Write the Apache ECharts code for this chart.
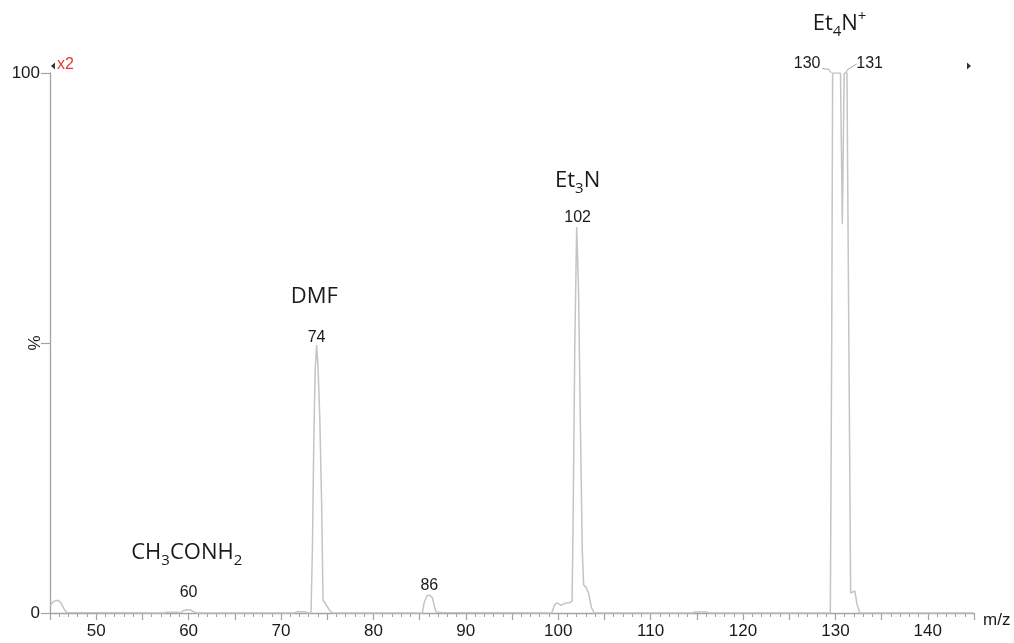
<!DOCTYPE html>
<html>
<head>
<meta charset="utf-8">
<script src="https://cdn.jsdelivr.net/npm/echarts@6/dist/echarts.min.js"></script>
<style>
html,body{margin:0;padding:0;background:#fff;}
#chart{width:1014px;height:643px;}
</style>
</head>
<body>
<div id="chart"></div>
<script>
// m/z profile (x) and relative intensity in % (y)
const mzValues = [
  45.0, 45.3, 45.6, 45.9, 46.2, 46.5, 46.8, 47.0,
  57.3, 57.6, 58.8, 59.1, 59.4, 59.8, 60.2, 60.6, 60.9,
  71.4, 71.8, 72.6, 72.9,
  73.25, 73.4, 73.55, 73.7, 73.85, 74.0, 74.2, 74.4, 74.55, 74.75, 75.0, 75.3, 75.6,
  85.3, 85.5, 85.8, 86.1, 86.4, 86.6, 86.8, 87.4, 87.6,
  99.3, 99.6, 99.9, 100.3, 100.7, 101.2, 101.5, 101.6, 101.8, 102.0, 102.2, 102.4, 102.6, 102.75, 103.0, 103.3, 103.6, 103.9,
  114.5, 114.8, 116.0, 116.3,
  129.45, 129.6, 129.7, 130.55, 130.75, 130.95, 131.25, 131.5, 131.65, 131.85, 132.1, 132.35, 132.65,
  145.0
];
const pctValues = [
  1.3, 2.0, 2.3, 2.3, 1.8, 0.8, 0.1, 0,
  0, 0.15, 0.15, 0, 0.4, 0.6, 0.55, 0.2, 0,
  0, 0.25, 0.25, 0,
  0, 12, 32, 45, 49.6, 46, 36, 20, 2.3, 1.9, 1.2, 0.4, 0,
  0, 2.0, 3.2, 3.3, 2.8, 1.2, 0.2, 0.1, 0,
  0, 1.5, 1.9, 1.4, 1.8, 1.9, 2.2, 15, 50, 71.5, 60, 35, 12, 5.2, 4.8, 3.6, 1.0, 0,
  0, 0.2, 0.2, 0,
  0, 50, 100, 100, 72, 100, 100, 40, 3.7, 3.9, 4.1, 1.5, 0,
  0
];

// axis tick labels
const xTickLabels = [50, 60, 70, 80, 90, 100, 110, 120, 130, 140];
const yTickLabels = [0, 100];

// peak number labels
const peakMz   = [60, 73.85, 86.05, 102.1, 129.65, 131.0];
const peakPct  = [0.6, 49.6, 3.3, 71.5, 100, 100];
const peakText = ['60', '74', '86', '102', '130', '131'];

// compound annotations
const compoundMz   = [59.8, 73.6, 102.1, 130.45];
const compoundPct  = [0.6, 49.6, 71.5, 100];
const compoundText = [
  '{n|CH}{s|3}{n|CONH}{s|2}',
  '{n|DMF}',
  '{n|Et}{s|3}{n|N}',
  '{n|Et}{s|4}{n|N}{p|+}'
];

const labelDistances = [9, 0, 2, 1];
const compoundDistances = [42, 33, 31, 34];

const chart = echarts.init(document.getElementById('chart'), null, {renderer: 'canvas'});

const axisColor = '#a3a3a3';
const textColor = '#1a1a1a';
const numFont = 'Liberation Sans';

const option = {
  animation: false,
  backgroundColor: '#ffffff',
  grid: {left: 50, right: 40, top: 73, bottom: 30, containLabel: false, outerBoundsMode: 'none'},
  xAxis: {
    type: 'value', min: 45, max: 145, interval: 5,
    name: 'm/z', nameLocation: 'end', nameGap: 9, nameMoveOverlap: false,
    nameTextStyle: {fontSize: 17, color: textColor, fontFamily: numFont, verticalAlign: 'top', padding: [-1, 0, 0, 0]},
    axisLine: {show: true, lineStyle: {color: axisColor, width: 1.3}},
    axisTick: {show: true, length: 7, lineStyle: {color: axisColor, width: 1.2}},
    minorTick: {show: true, splitNumber: 5, length: 4, lineStyle: {color: axisColor, width: 1}},
    splitLine: {show: false},
    minorSplitLine: {show: false},
    axisLabel: {
      fontSize: 17, color: textColor, fontFamily: numFont, margin: 10,
      formatter: v => xTickLabels.indexOf(v) >= 0 ? String(v) : ''
    }
  },
  yAxis: {
    type: 'value', min: 0, max: 100, interval: 50,
    name: '%', nameLocation: 'middle', nameGap: 6, nameRotate: 90, nameMoveOverlap: false,
    nameTextStyle: {fontSize: 17, color: textColor, fontFamily: numFont},
    axisLine: {show: true, lineStyle: {color: axisColor, width: 1.3}},
    axisTick: {show: true, length: 9, lineStyle: {color: axisColor, width: 1.2}},
    splitLine: {show: false},
    axisLabel: {
      fontSize: 17, color: textColor, fontFamily: numFont, margin: 10,
      formatter: v => yTickLabels.indexOf(v) >= 0 ? String(v) : ''
    }
  },
  series: [
    {
      type: 'line',
      data: mzValues.map((m, i) => [m, pctValues[i]]),
      showSymbol: false,
      symbol: 'none',
      lineStyle: {color: '#c4c4c4', width: 1.5},
      z: 2
    },
    {
      type: 'scatter',
      symbolSize: 0,
      silent: true,
      z: 5,
      itemStyle: {opacity: 1},
      data: peakMz.map((m, i) => {
        const item = {value: [m, peakPct[i]], name: peakText[i]};
        if (i < 4) {
          item.label = {position: 'top', distance: labelDistances[i]};
        } else {
          item.label = {position: 'inside'};
        }
        return item;
      }),
      label: {
        show: true,
        formatter: p => p.name,
        fontSize: 16, color: textColor, fontFamily: numFont, opacity: 1
      },
      labelLayout: function (params) {
        if (params.dataIndex === 4) return {dx: -25, dy: -9};
        if (params.dataIndex === 5) return {dx: 25, dy: -9};
        return {};
      }
    },
    {
      type: 'scatter',
      symbolSize: 0,
      silent: true,
      z: 5,
      itemStyle: {opacity: 1},
      data: compoundMz.map((m, i) => ({
        value: [m, compoundPct[i]],
        name: compoundText[i],
        label: {distance: compoundDistances[i]}
      })),
      label: {
        show: true,
        position: 'top',
        opacity: 1,
        formatter: p => p.name,
        rich: {
          n: {fontSize: 22, fontFamily: 'Open Sans', color: textColor, lineHeight: 30},
          s: {fontSize: 15, fontFamily: 'Open Sans', color: textColor, lineHeight: 14, verticalAlign: 'bottom'},
          p: {fontSize: 15, fontFamily: 'Open Sans', color: textColor, lineHeight: 24, verticalAlign: 'top'}
        }
      }
    }
  ]
};

chart.setOption(option);

// leader lines from the 130 / 131 labels to their (off-scale) peak tops
const a130 = chart.convertToPixel({gridIndex: 0}, [peakMz[4], peakPct[4]]);
const a131 = chart.convertToPixel({gridIndex: 0}, [peakMz[5], peakPct[5]]);
const leader = {stroke: '#a8a8a8', lineWidth: 1};
chart.setOption({
  graphic: [
    {type: 'polyline', shape: {points: [[a130[0] - 10, a130[1] - 4.5], [a130[0] - 3, a130[1] - 3.5], [a130[0] - 1, a130[1]]]}, style: leader, silent: true},
    {type: 'polyline', shape: {points: [[a131[0] + 12, a131[1] - 9], [a131[0] + 3, a131[1] - 3.5], [a131[0] + 1, a131[1]]]}, style: leader, silent: true},
    {type: 'polygon', shape: {points: [[51, 66], [55, 62.5], [55, 69.5]]}, style: {fill: '#333'}},
    {type: 'text', left: 57, top: 57, style: {text: 'x2', fill: '#e8382c', fontSize: 16, fontFamily: numFont}},
    {type: 'polygon', shape: {points: [[971, 66], [967, 62.5], [967, 69.5]]}, style: {fill: '#333'}}
  ]
});
</script>
</body>
</html>
